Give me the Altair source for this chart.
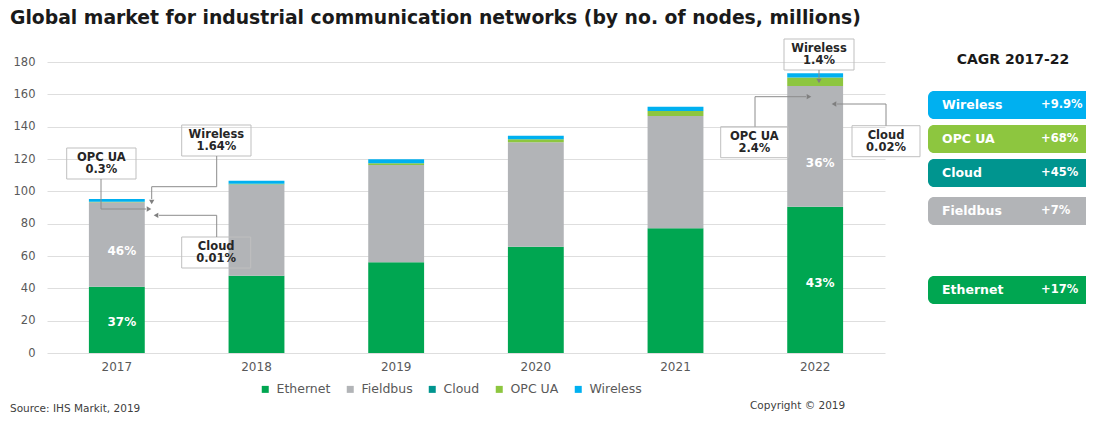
import altair as alt
import pandas as pd

# ---------------- data ----------------
years = ["2017", "2018", "2019", "2020", "2021", "2022"]
ethernet = [41.0, 47.8, 56.1, 65.7, 77.1, 90.5]
fieldbus = [52.3, 56.5, 60.2, 64.7, 69.5, 74.6]
cloud = [0.01, 0.01, 0.02, 0.02, 0.03, 0.04]
opc_ua = [0.3, 0.4, 1.0, 1.8, 3.1, 5.2]
wireless = [1.6, 1.8, 2.5, 2.1, 2.6, 2.7]

series_names = ["Ethernet", "Fieldbus", "Cloud", "OPC UA", "Wireless"]
series_colors = ["#00A651", "#B2B4B7", "#00958F", "#8DC63F", "#00B0F0"]

y_ticks = [0, 20, 40, 60, 80, 100, 120, 140, 160, 180]

share_years = ["2017", "2017", "2022", "2022"]
share_levels = [19, 63, 43, 117.5]
share_texts = ["37%", "46%", "43%", "36%"]

callout_names = ["OPC UA", "Wireless", "Cloud", "Wireless", "OPC UA", "Cloud"]
callout_shares = ["0.3%", "1.64%", "0.01%", "1.4%", "2.4%", "0.02%"]

cagr_names = ["Wireless", "OPC UA", "Cloud", "Fieldbus", "Ethernet"]
cagr_values = ["+9.9%", "+68%", "+45%", "+7%", "+17%"]
cagr_colors = ["#00B0F0", "#8DC63F", "#00958F", "#B2B4B7", "#00A651"]

title_text = "Global market for industrial communication networks (by no. of nodes, millions)"
cagr_title = "CAGR 2017-22"
source_text = "Source: IHS Markit, 2019"
copyright_text = "Copyright \u00a9 2019"

# ---------------- layout (pixels relative to plot origin) ----------------
FONT = "DejaVu Sans"
W, H = 838, 291

box_x = [19.7, 134.7, 134.7, 737, 673.7, 805]
box_x2 = [89, 204, 203.7, 807, 741, 873]
box_y = [86, 63, 175, -23, 64.7, 63.7]
box_h = 31

segments = [
    (54, 117, 54, 147), (54, 147, 99, 147),
    (169.7, 94, 169.7, 124.7), (169.7, 124.7, 104.7, 124.7), (104.7, 124.7, 104.7, 137),
    (169.7, 175, 169.7, 153.3), (169.7, 153.3, 112, 153.3),
    (772, 8, 772, 16),
    (708, 64.7, 708, 34.7), (708, 34.7, 759, 34.7),
    (839, 63.7, 839, 42), (839, 42, 790, 42),
]
arrows_right = [(102, 147), (762, 34.7)]
arrows_down = [(104.7, 140), (772, 19)]
arrows_left = [(109, 153.3), (787, 42)]

cagr_y = [29, 63, 97, 135, 214]
cagr_h = 28

# ---------------- frames ----------------
rows = []
for s_i, (name, vals) in enumerate(zip(series_names, [ethernet, fieldbus, cloud, opc_ua, wireless])):
    for y, v in zip(years, vals):
        rows.append({"year": y, "series": name, "value": v, "idx": s_i})
df = pd.DataFrame(rows)

xscale = alt.Scale(domain=years, paddingInner=0.6, paddingOuter=0.3)
yscale = alt.Scale(domain=[0, 180], nice=False)

x_axis = alt.Axis(labelAngle=0, domain=False, ticks=False, tickSize=0,
                  labelPadding=8, labelFontSize=12, labelColor="#595959",
                  labelFont=FONT, grid=False)
y_axis = alt.Axis(values=y_ticks, tickCount=10, domain=False, ticks=False,
                  tickSize=0, labelPadding=12, labelFontSize=11.5,
                  labelOverlap=False, labelColor="#595959", labelFont=FONT,
                  gridColor="#DEDEDE", gridWidth=1)

bars = alt.Chart(df).mark_bar().encode(
    x=alt.X("year:N", scale=xscale, title=None, axis=x_axis),
    y=alt.Y("value:Q", stack="zero", scale=yscale, title=None, axis=y_axis),
    color=alt.Color("series:N", scale=alt.Scale(domain=series_names, range=series_colors),
                    sort=series_names,
                    legend=alt.Legend(orient="none", legendX=212, legendY=321,
                                      direction="horizontal", title=None,
                                      symbolType="square", symbolSize=49,
                                      symbolStrokeWidth=0, labelFontSize=12.5,
                                      labelColor="#595959", labelFont=FONT,
                                      columnPadding=13, labelOffset=5)),
    order=alt.Order("idx:Q"),
)

pct_df = pd.DataFrame({"year": share_years, "level": share_levels, "text": share_texts})
pct = alt.Chart(pct_df).mark_text(color="white", fontWeight="bold", fontSize=12,
                                  font=FONT, dx=5).encode(
    x=alt.X("year:N", scale=xscale, title=None, axis=x_axis),
    y=alt.Y("level:Q", scale=yscale, title=None, axis=y_axis),
    text="text:N",
)

main = alt.layer(bars, pct)

def px(field):
    return alt.X(field + ":Q", scale=None, axis=None)

def py(field):
    return alt.Y(field + ":Q", scale=None, axis=None)

# callout boxes
box_df = pd.DataFrame({"x": box_x, "x2": box_x2, "y": box_y,
                       "y2": [b + box_h for b in box_y]})
boxes = alt.Chart(box_df).mark_rect(fill="white", fillOpacity=0, stroke="#BFBFBF",
                                    strokeWidth=1).encode(
    x=px("x"), x2="x2:Q", y=py("y"), y2="y2:Q")

# callout texts
ct_rows = []
for i in range(len(callout_names)):
    cx = (box_x[i] + box_x2[i]) / 2
    ct_rows.append({"x": cx, "y": box_y[i] + 10, "t": callout_names[i]})
    ct_rows.append({"x": cx, "y": box_y[i] + 22, "t": callout_shares[i]})
ct = alt.Chart(pd.DataFrame(ct_rows)).mark_text(
    fontWeight="bold", fontSize=11.5, font=FONT, color="#262626",
    align="center", baseline="middle").encode(x=px("x"), y=py("y"), text="t:N")

seg_df = pd.DataFrame(segments, columns=["x", "y", "x2", "y2"])
rules = alt.Chart(seg_df).mark_rule(color="#8C8C8C", strokeWidth=1).encode(
    x=px("x"), y=py("y"), x2="x2:Q", y2="y2:Q")

def arrow_layer(pts, shape):
    d = pd.DataFrame(pts, columns=["x", "y"])
    return alt.Chart(d).mark_point(shape=shape, filled=True, size=28, color="#7F7F7F",
                                   opacity=1).encode(x=px("x"), y=py("y"))

ar = arrow_layer(arrows_right, "triangle-right")
ad = arrow_layer(arrows_down, "triangle-down")
al = arrow_layer(arrows_left, "triangle-left")

# CAGR panel
cg_df = pd.DataFrame({"name": cagr_names, "val": cagr_values, "color": cagr_colors,
                      "y": cagr_y, "y2": [v + cagr_h for v in cagr_y],
                      "ym": [v + cagr_h / 2 for v in cagr_y]})
cg_df["x"] = 881
cg_df["x2"] = 1060
cg_df["lx"] = 895
cg_df["vx"] = 994
cg_rects = alt.Chart(cg_df).mark_rect(cornerRadius=6).encode(
    x=px("x"), x2="x2:Q", y=py("y"), y2="y2:Q",
    color=alt.Color("color:N", scale=None, legend=None))
cg_lab = alt.Chart(cg_df).mark_text(color="white", fontWeight="bold", fontSize=12.5,
                                    font=FONT, align="left", baseline="middle").encode(
    x=px("lx"), y=py("ym"), text="name:N")
cg_val = alt.Chart(cg_df).mark_text(color="white", fontWeight="bold", fontSize=11.5,
                                    font=FONT, align="left", baseline="middle").encode(
    x=px("vx"), y=py("ym"), text="val:N")

title = alt.Chart(pd.DataFrame({"x": [-37], "y": [-44], "t": [title_text]})).mark_text(
    fontWeight="bold", fontSize=18.8, font=FONT, color="#1A1A1A",
    align="left", baseline="middle").encode(x=px("x"), y=py("y"), text="t:N")
cagr_head = alt.Chart(pd.DataFrame({"x": [966], "y": [-2], "t": [cagr_title]})).mark_text(
    fontWeight="bold", fontSize=14, font=FONT, color="#1A1A1A",
    align="center", baseline="middle").encode(x=px("x"), y=py("y"), text="t:N")
source = alt.Chart(pd.DataFrame({"x": [-37], "y": [347], "t": [source_text]})).mark_text(
    fontSize=10.5, font=FONT, color="#404040",
    align="left", baseline="middle").encode(x=px("x"), y=py("y"), text="t:N")
copy_ = alt.Chart(pd.DataFrame({"x": [703], "y": [344], "t": [copyright_text]})).mark_text(
    fontSize=10.5, font=FONT, color="#404040",
    align="left", baseline="middle").encode(x=px("x"), y=py("y"), text="t:N")

chart = alt.layer(
    main, boxes, rules, ar, ad, al, ct, cg_rects, cg_lab, cg_val,
    title, cagr_head, source, copy_,
).resolve_scale(x="independent", y="independent", color="independent").properties(
    width=W, height=H,
    autosize=alt.AutoSizeParams(type="none"),
    padding={"left": 39, "top": 54, "right": 201, "bottom": 60},
).configure(font=FONT, view=alt.ViewConfig(stroke=None))

chart.save("out.html", embed_options={"renderer": "svg", "actions": False})
